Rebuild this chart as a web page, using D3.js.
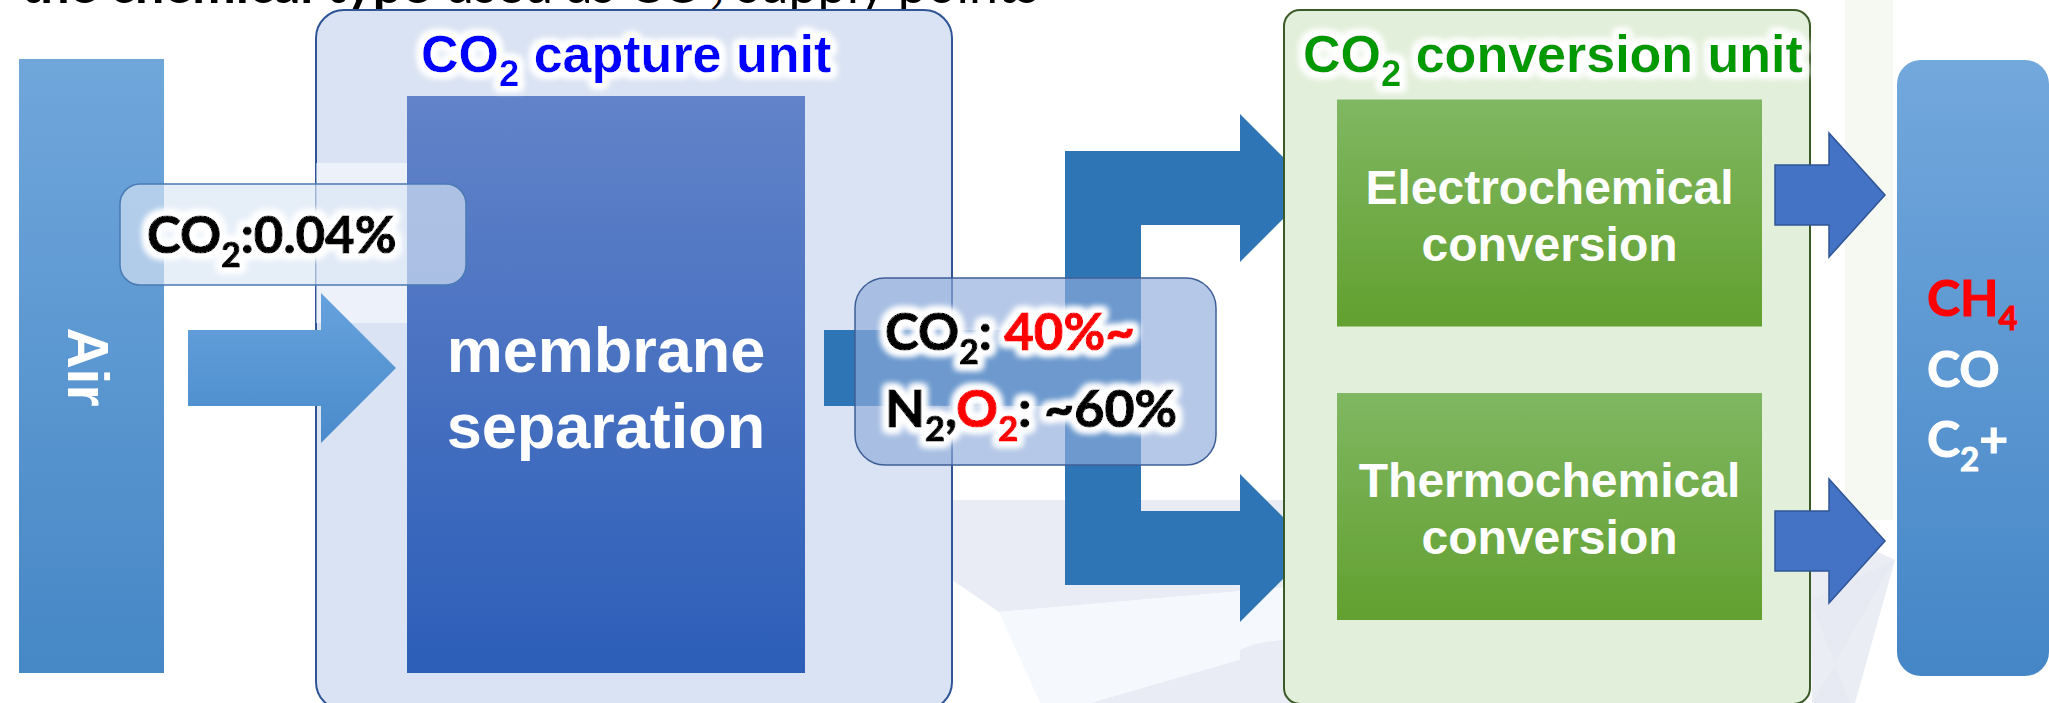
<!DOCTYPE html>
<meta charset="utf-8">
<style>
  body { margin: 0; background: #fff; }
  svg { display: block; }
  text { white-space: pre; }
</style>
<svg width="2049" height="703"></svg>
<script src="https://cdn.jsdelivr.net/npm/d3@7/dist/d3.min.js"></script>
<script>

// ---- diagram content ----
var headBold = "the chemical type";
var headNormal = [{t: "used as CO"}, {t: "2", sub: true}, {t: " supply points"}];

var sourceLabel = "Air";
var airComposition = [{t: "CO"}, {t: "2", sub: true}, {t: ":0.04%"}];

var captureTitle = [{t: "CO"}, {t: "2", sub: true}, {t: " capture unit"}];
var captureMethod = ["membrane", "separation"];

var enrichedLine1 = [{t: "CO"}, {t: "2", sub: true}, {t: ": "}, {t: "40%~", fill: "#ff0000"}];
var enrichedLine2 = [{t: "N"}, {t: "2", sub: true}, {t: ","}, {t: "O", fill: "#ff0000"},
                     {t: "2", sub: true, fill: "#ff0000"}, {t: ": ~60%"}];

var conversionTitle = [{t: "CO"}, {t: "2", sub: true}, {t: " conversion unit"}];
var routes = ["Electrochemical", "Thermochemical"];

var products = [
  [{t: "CH", fill: "#ff0000"}, {t: "4", sub: true, fill: "#ff0000"}],
  [{t: "CO"}],
  [{t: "C"}, {t: "2", sub: true}, {t: "+"}]
];

// ---- layout ----
var svg = d3.select("svg"),
    width = +svg.attr("width"),
    height = +svg.attr("height");

var arial = "'Liberation Sans', Arial, sans-serif",
    cal = "Lato, 'Noto Sans', sans-serif";

var defs = svg.append("defs");

function vgrad(id, top, bottom) {
  var g = defs.append("linearGradient").attr("id", id)
      .attr("x1", 0).attr("y1", 0).attr("x2", 0).attr("y2", 1);
  g.append("stop").attr("offset", "0%").attr("stop-color", top);
  g.append("stop").attr("offset", "100%").attr("stop-color", bottom);
}
vgrad("gAir", "#70a7db", "#4687c6");
vgrad("gArrow", "#66a2dd", "#4a8bcb");
vgrad("gMem", "#6283c9", "#2c5eb8");
vgrad("gGreen", "#80b762", "#62a02f");
vgrad("gProd", "#72a8dc", "#4586c7");

var glow = defs.append("filter").attr("id", "glow")
    .attr("x", "-20%").attr("y", "-50%").attr("width", "140%").attr("height", "200%");
glow.append("feMorphology").attr("in", "SourceAlpha").attr("operator", "dilate")
    .attr("radius", 4).attr("result", "d");
glow.append("feGaussianBlur").attr("in", "d").attr("stdDeviation", 3.5).attr("result", "b");
glow.append("feFlood").attr("flood-color", "#ffffff").attr("result", "w");
glow.append("feComposite").attr("in", "w").attr("in2", "b").attr("operator", "in").attr("result", "g");
var merge = glow.append("feMerge");
merge.append("feMergeNode").attr("in", "g");
merge.append("feMergeNode").attr("in", "g");
merge.append("feMergeNode").attr("in", "g");
merge.append("feMergeNode").attr("in", "SourceGraphic");

// text with subscripts
function rich(parent, segs, x, y, opt) {
  var size = opt.size, shift = size * (opt.shift || 0.27), subSize = size * (opt.subScale || 0.66);
  var base = opt.fill || "#000";
  var t = parent.append("text")
      .attr("x", x).attr("y", y)
      .attr("font-family", opt.font || cal)
      .attr("font-weight", opt.weight || "bold")
      .attr("font-size", size)
      .attr("fill", base)
      .attr("text-anchor", opt.anchor || "start");
  if (opt.heavy) t.attr("stroke", base).attr("stroke-width", opt.heavy);
  if (opt.glow) t.attr("filter", "url(#glow)");
  var down = 0;
  segs.forEach(function(s) {
    var ts = t.append("tspan").text(s.t);
    if (s.fill) { ts.attr("fill", s.fill); if (opt.heavy) ts.attr("stroke", s.fill); }
    var target = s.sub ? shift : 0;
    if (target !== down) { ts.attr("dy", target - down); down = target; }
    if (s.sub) ts.attr("font-size", subSize);
  });
  return t;
}

// ---- faint background decoration ----
var bg = svg.append("g");
bg.append("path").attr("d", "M952,500 L1290,500 L1290,587 L999,612 L952,580 Z").attr("fill", "#e9ecf5");
bg.append("path").attr("d", "M1090,703 L1290,645 L1290,703 Z").attr("fill", "#e9ecf5");
bg.append("path").attr("d", "M999,612 L1290,587 L1290,645 L1090,703 L1040,703 Z").attr("fill", "#f5f8fc");
bg.append("path").attr("d", "M1240,650 Q1262,640 1290,640 L1290,703 L1240,703 Z").attr("fill", "#e9ecf5");
bg.append("rect").attr("x", 1845).attr("y", 0).attr("width", 48).attr("height", 520).attr("fill", "#f6f9f2");
[[1810, 600, 1850, 703], [1855, 703, 1880, 703], [1810, 520, 1810, 560]].forEach(function(r) {
  bg.append("path").attr("d", "M1895,560 L" + r[0] + "," + r[1] + " L" + r[2] + "," + r[3] + " L1812,703 Z")
    .attr("fill", "#e6e9f3").attr("opacity", 0.8);
});

// ---- header (cut off at the top, as in the source slide) ----
svg.append("text").attr("x", 430).attr("y", 3).attr("text-anchor", "end")
    .attr("font-family", cal).attr("font-weight", "bold").attr("font-size", 52)
    .text(headBold);
rich(svg, headNormal, 445, 3, {size: 52, weight: "normal"});

// ---- source: Air ----
svg.append("rect").attr("x", 19).attr("y", 59).attr("width", 145).attr("height", 614).attr("fill", "url(#gAir)");
svg.append("text")
    .attr("transform", "translate(68,367) rotate(90)")
    .attr("text-anchor", "middle")
    .attr("font-family", arial).attr("font-weight", "bold").attr("font-size", 57)
    .attr("fill", "#fff")
    .text(sourceLabel);

// ---- capture unit ----
svg.append("rect").attr("x", 316).attr("y", 10).attr("width", 636).attr("height", 700)
    .attr("rx", 28).attr("fill", "#dae3f3").attr("stroke", "#2f5597").attr("stroke-width", 2);
svg.append("rect").attr("x", 316).attr("y", 163).attr("width", 91).attr("height", 160)
    .attr("fill", "#fff").attr("opacity", 0.5);
svg.append("rect").attr("x", 407).attr("y", 96).attr("width", 398).attr("height", 577).attr("fill", "url(#gMem)");
captureMethod.forEach(function(w, i) {
  svg.append("text").attr("x", 606).attr("y", 372 + i * 76).attr("text-anchor", "middle")
      .attr("font-family", arial).attr("font-weight", "bold").attr("font-size", 63)
      .attr("fill", "#fff").text(w);
});
rich(svg, captureTitle, 421, 72, {size: 52, font: arial, fill: "#0000ff", glow: true, subScale: 0.7});

// air arrow
svg.append("path")
    .attr("d", "M188,330 L321,330 L321,293 L396,368 L321,443 L321,406 L188,406 Z")
    .attr("fill", "url(#gArrow)");

// air composition label
svg.append("rect").attr("x", 120).attr("y", 184).attr("width", 346).attr("height", 101).attr("rx", 20)
    .attr("fill", "#d9e5f4").attr("fill-opacity", 0.66)
    .attr("stroke", "#4a7ab5").attr("stroke-width", 1.5);
rich(svg, airComposition, 147, 253, {size: 51, glow: true, heavy: 1.2});

// ---- branching arrow ----
svg.append("path")
    .attr("d", "M824,330 L1065,330 L1065,151 L1240,151 L1240,114 L1314,188 L1240,262 L1240,225 " +
               "L1141,225 L1141,511 L1240,511 L1240,474 L1314,548 L1240,622 L1240,585 " +
               "L1065,585 L1065,406 L824,406 Z")
    .attr("fill", "#2e75b6");

// ---- conversion unit ----
svg.append("rect").attr("x", 1284).attr("y", 10).attr("width", 526).attr("height", 694)
    .attr("rx", 16).attr("fill", "#e2efda").attr("stroke", "#3b5a27").attr("stroke-width", 2);

var y = d3.scaleBand().domain(routes).range([99.5, 620]).paddingInner(0.2266);

var route = svg.append("g").selectAll("g").data(routes).enter().append("g");
route.append("rect")
    .attr("x", 1337).attr("width", 425)
    .attr("y", function(d) { return y(d); })
    .attr("height", y.bandwidth())
    .attr("fill", "url(#gGreen)");
route.append("text")
    .attr("x", 1549.5).attr("text-anchor", "middle")
    .attr("font-family", arial).attr("font-weight", "bold").attr("font-size", 48)
    .attr("fill", "#fff")
    .each(function(d) {
      var t = d3.select(this), y0 = y(d) + 104;
      t.append("tspan").attr("x", 1549.5).attr("y", y0).text(d);
      t.append("tspan").attr("x", 1549.5).attr("y", y0 + 57).text("conversion");
    });

rich(svg, conversionTitle, 1303, 72, {size: 52, font: arial, fill: "#009900", glow: true, subScale: 0.7});

// enriched gas label
svg.append("rect").attr("x", 855).attr("y", 278).attr("width", 361).attr("height", 187).attr("rx", 30)
    .attr("fill", "#8fabdb").attr("fill-opacity", 0.66)
    .attr("stroke", "#3e5f96").attr("stroke-width", 1.5);
rich(svg, enrichedLine1, 885, 350, {size: 51, glow: true, heavy: 1.2});
rich(svg, enrichedLine2, 885, 427, {size: 52, glow: true, heavy: 1.2});

// ---- output arrows and products ----
[195, 541].forEach(function(cy) {
  svg.append("path")
      .attr("d", "M1775," + (cy - 30) + " L1829," + (cy - 30) + " L1829," + (cy - 62) +
                 " L1885," + cy + " L1829," + (cy + 62) + " L1829," + (cy + 30) +
                 " L1775," + (cy + 30) + " Z")
      .attr("fill", "#4472c4").attr("stroke", "#2f5597").attr("stroke-width", 1.5);
});

svg.append("rect").attr("x", 1897).attr("y", 60).attr("width", 152).attr("height", 616)
    .attr("rx", 24).attr("fill", "url(#gProd)");

var py = d3.scalePoint().domain(d3.range(products.length)).range([316, 457]);
products.forEach(function(p, i) {
  rich(svg, p, 1927, py(i), {size: 50, fill: "#fff", heavy: 1});
});

</script>
